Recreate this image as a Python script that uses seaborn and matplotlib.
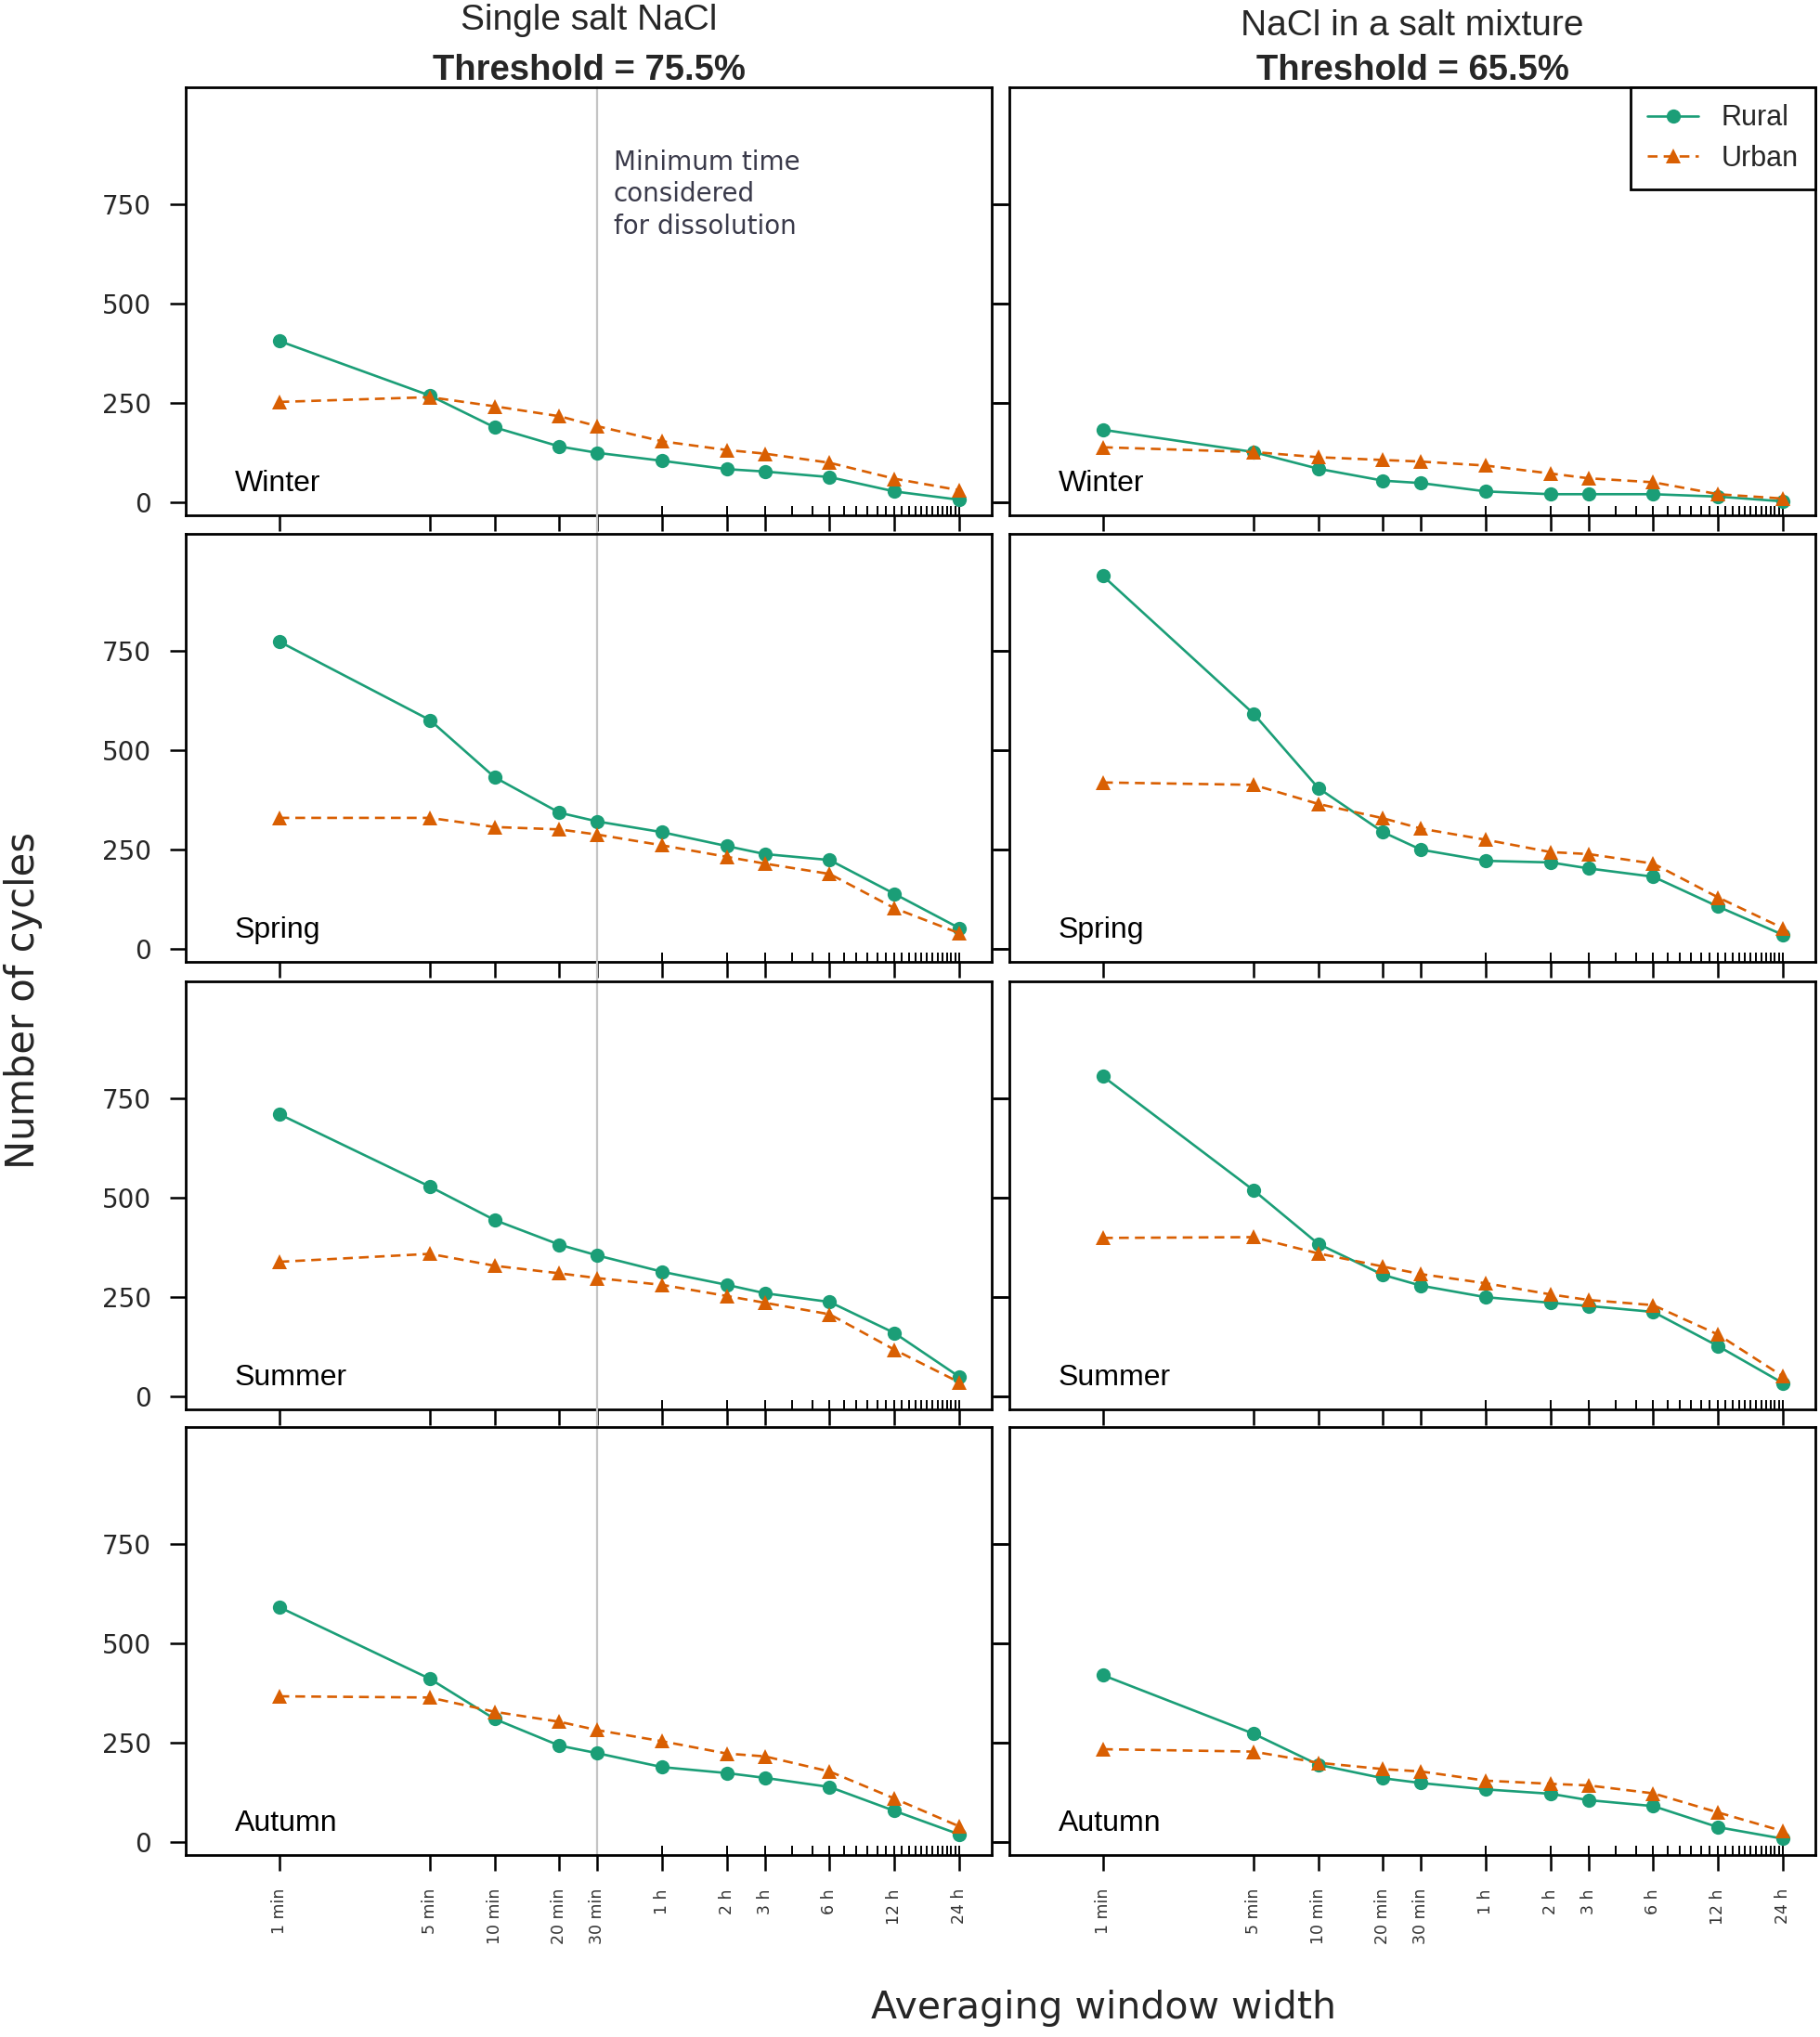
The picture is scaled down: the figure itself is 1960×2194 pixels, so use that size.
import numpy as np
import pandas as pd
import matplotlib
matplotlib.use("Agg")
import matplotlib.pyplot as plt
import seaborn as sns
from matplotlib.lines import Line2D
from matplotlib.ticker import NullFormatter

# averaging windows (minutes) and their labels
window_min = [1, 5, 10, 20, 30, 60, 120, 180, 360, 720, 1440]
window_labels = ['1 min', '5 min', '10 min', '20 min', '30 min',
                 '1 h', '2 h', '3 h', '6 h', '12 h', '24 h']
hour_ticks = [60 * h for h in range(1, 25)]
seasons = ['Winter', 'Spring', 'Summer', 'Autumn']

# Single salt NaCl, threshold 75.5%
single_winter_rural = [405, 268, 188, 140, 124, 104, 83, 77, 63, 27, 6]
single_winter_urban = [252, 264, 241, 216, 191, 153, 131, 122, 99, 59, 30]
single_spring_rural = [772, 575, 431, 342, 320, 293, 258, 238, 223, 138, 52]
single_spring_urban = [329, 329, 306, 300, 287, 260, 231, 214, 188, 102, 39]
single_summer_rural = [709, 527, 443, 381, 354, 313, 280, 259, 237, 159, 49]
single_summer_urban = [338, 358, 328, 309, 297, 280, 252, 235, 206, 117, 35]
single_autumn_rural = [590, 410, 309, 242, 223, 188, 173, 161, 138, 78, 19]
single_autumn_urban = [366, 363, 327, 302, 281, 253, 222, 215, 177, 109, 39]

# NaCl in a salt mixture, threshold 65.5%
mix_winter_rural = [182, 126, 84, 54, 48, 27, 20, 20, 20, 14, 2]
mix_winter_urban = [138, 126, 113, 106, 102, 92, 72, 60, 50, 20, 9]
mix_spring_rural = [937, 591, 404, 293, 249, 221, 217, 202, 181, 106, 35]
mix_spring_urban = [418, 412, 364, 328, 302, 274, 243, 238, 214, 129, 52]
mix_summer_rural = [804, 518, 383, 305, 278, 249, 235, 227, 212, 126, 33]
mix_summer_urban = [398, 400, 359, 326, 307, 284, 256, 242, 229, 155, 50]
mix_autumn_rural = [419, 272, 194, 160, 148, 132, 121, 105, 90, 37, 8]
mix_autumn_urban = [233, 227, 199, 183, 177, 154, 146, 142, 122, 74, 27]

series = {
    ('single', 'Winter'): (single_winter_rural, single_winter_urban),
    ('single', 'Spring'): (single_spring_rural, single_spring_urban),
    ('single', 'Summer'): (single_summer_rural, single_summer_urban),
    ('single', 'Autumn'): (single_autumn_rural, single_autumn_urban),
    ('mix', 'Winter'): (mix_winter_rural, mix_winter_urban),
    ('mix', 'Spring'): (mix_spring_rural, mix_spring_urban),
    ('mix', 'Summer'): (mix_summer_rural, mix_summer_urban),
    ('mix', 'Autumn'): (mix_autumn_rural, mix_autumn_urban),
}

rows = []
for (salt, season), (rural, urban) in series.items():
    for w, r, u in zip(window_min, rural, urban):
        rows.append({'salt': salt, 'season': season, 'window': w, 'site': 'Rural', 'cycles': r})
        rows.append({'salt': salt, 'season': season, 'window': w, 'site': 'Urban', 'cycles': u})
df = pd.DataFrame(rows)

sns.set_theme(style='white')
plt.rcParams['font.family'] = ['DejaVu Sans']

pal = sns.color_palette('Dark2', 2)
palette = {'Rural': pal[0], 'Urban': pal[1]}

W, H = 1960, 2194
fig = plt.figure(figsize=(W / 100, H / 100), dpi=100)

col_x = [200, 1087]
col_w = 868
row_y = [94, 575, 1057, 1537]
row_h = 461
salts = ['single', 'mix']

axes = {}
for c, salt in enumerate(salts):
    for r, season in enumerate(seasons):
        ax = fig.add_axes([col_x[c] / W, 1 - (row_y[r] + row_h) / H, col_w / W, row_h / H])
        axes[(c, r)] = ax
        sub = df[(df['salt'] == salt) & (df['season'] == season)]
        if c == 0:
            # grey line at 30 min, running through the gaps between rows
            ymax = 1.0 if r == 0 else 1 + 21 / row_h
            ax.axvline(30, ymin=0, ymax=ymax, color='#c4c4c4', lw=1.6, zorder=0.5, clip_on=False)
        sns.lineplot(data=sub, x='window', y='cycles', hue='site', style='site',
                     palette=palette, markers={'Rural': 'o', 'Urban': '^'},
                     dashes={'Rural': '', 'Urban': (4, 2.5)}, markersize=11,
                     markeredgewidth=0, linewidth=1.9, legend=False, ax=ax)
        ax.set_xscale('log')
        ax.set_xlim(0.367, 2038)
        ax.set_ylim(-33, 1043)
        ax.set_xlabel('')
        ax.set_ylabel('')

        ax.set_xticks(window_min)
        if r == 3:
            ax.set_xticklabels(window_labels, rotation=90, fontsize=12.5, color='#333333')
        else:
            ax.set_xticklabels([])
        ax.set_xticks(hour_ticks, minor=True)
        ax.xaxis.set_minor_formatter(NullFormatter())
        ax.xaxis.remove_overlapping_locs = False
        ax.tick_params(axis='x', which='major', direction='out', length=12, width=1.8,
                       color='black', bottom=True, top=False, pad=14)
        ax.tick_params(axis='x', which='minor', direction='in', length=7, width=1.4,
                       color='black', bottom=True, top=False)

        ax.set_yticks([0, 250, 500, 750])
        if c == 0:
            ax.tick_params(axis='y', direction='out', length=12, width=1.8, color='black',
                           left=True, right=True, labelleft=True, labelsize=20, pad=15)
        else:
            ax.tick_params(axis='y', direction='out', length=12, width=1.8, color='black',
                           left=True, right=False, labelleft=False)
        for sp in ax.spines.values():
            sp.set_color('black')
            sp.set_linewidth(2)
        ax.text(0.061, 0.073, season, transform=ax.transAxes, ha='left', va='center',
                fontsize=23, family='Liberation Sans', color='black')

axes[(0, 0)].text(0.531, 0.855, 'Minimum time\nconsidered\nfor dissolution',
                  transform=axes[(0, 0)].transAxes, ha='left', va='top',
                  fontsize=20, color='#3a3a4a', linespacing=1.3)

handles = [Line2D([], [], color=palette['Rural'], marker='o', ls='-', lw=1.9, ms=11, mew=0),
           Line2D([], [], color=palette['Urban'], marker='^', ls=(0, (4, 2.5)), lw=1.9, ms=11, mew=0)]
leg = axes[(1, 0)].legend(handles, ['Rural', 'Urban'], loc='upper right', borderaxespad=0,
                          frameon=True, fancybox=False, edgecolor='black', framealpha=1,
                          prop={'family': 'Liberation Sans', 'size': 22}, handlelength=1.8,
                          handletextpad=0.8, borderpad=0.6, labelspacing=0.45)
leg.get_frame().set_linewidth(2)

fig.text(634 / W, 1 - 22 / H, 'Single salt NaCl', ha='center', va='center',
         fontsize=28, family='Liberation Sans')
fig.text(634 / W, 1 - 76 / H, 'Threshold = 75.5%', ha='center', va='center',
         fontsize=27.5, family='Liberation Sans', fontweight='bold')
fig.text(1521 / W, 1 - 28 / H, 'NaCl in a salt mixture', ha='center', va='center',
         fontsize=28, family='Liberation Sans')
fig.text(1521 / W, 1 - 76 / H, 'Threshold = 65.5%', ha='center', va='center',
         fontsize=27.5, family='Liberation Sans', fontweight='bold')

fig.text(25 / W, 1 - 1077 / H, 'Number of cycles', rotation=90, ha='center', va='center',
         fontsize=30)
fig.text(1188 / W, 1 - 2163 / H, 'Averaging window width', ha='center', va='center',
         fontsize=29.5)

fig.savefig('out.png', dpi=100, facecolor='white')
